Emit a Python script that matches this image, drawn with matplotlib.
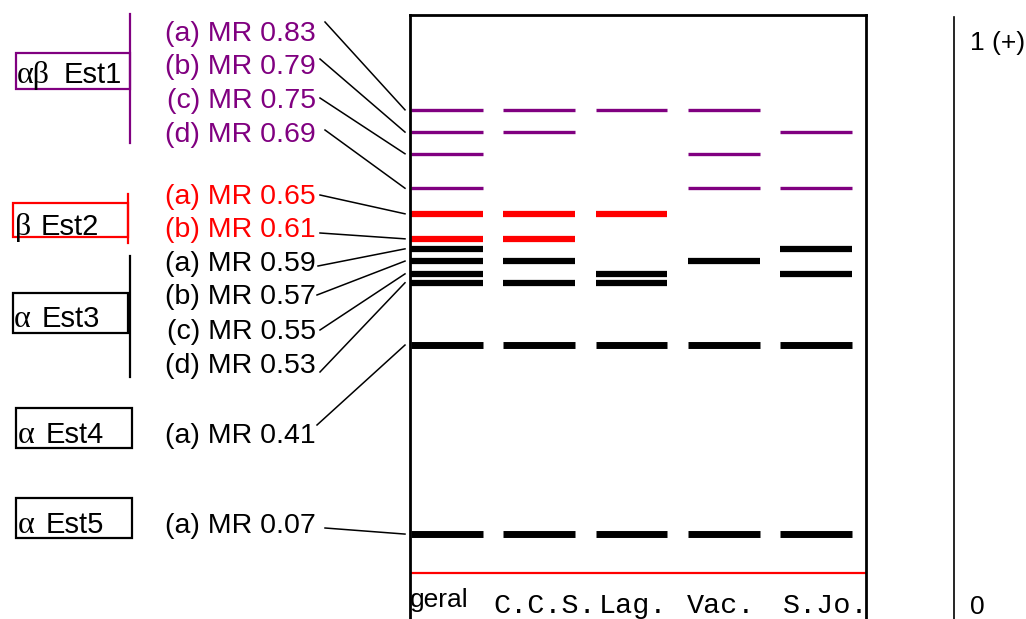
import matplotlib
matplotlib.use("Agg")
import matplotlib.pyplot as plt
from matplotlib.patches import Rectangle

# ---------------- data ----------------
lanes = ["geral", "C.C.S.", "Lag.", "Vac.", "S.Jo."]
band_letters = ["a", "b", "c", "d", "a", "b", "a", "b", "c", "d", "a", "a"]
band_mr = [0.83, 0.79, 0.75, 0.69, 0.65, 0.61, 0.59, 0.57, 0.55, 0.53, 0.41, 0.07]
# drawn band positions (relative mobility)
band_pos = [0.833, 0.793, 0.754, 0.692, 0.646, 0.601, 0.583, 0.561, 0.538, 0.522, 0.410, 0.070]
presence = [
    [1, 1, 1, 1, 0],  # 0.83
    [1, 1, 0, 0, 1],  # 0.79
    [1, 0, 0, 1, 0],  # 0.75
    [1, 0, 0, 1, 1],  # 0.69
    [1, 1, 1, 0, 0],  # 0.65
    [1, 1, 0, 0, 0],  # 0.61
    [1, 0, 0, 0, 1],  # 0.59
    [1, 1, 0, 1, 0],  # 0.57
    [1, 0, 1, 0, 1],  # 0.55
    [1, 1, 1, 0, 0],  # 0.53
    [1, 1, 1, 1, 1],  # 0.41
    [1, 1, 1, 1, 1],  # 0.07
]
group_greek = ["αβ", "β", "α", "α", "α"]
group_names = ["Est1", "Est2", "Est3", "Est4", "Est5"]
group_bands = [[0, 1, 2, 3], [4, 5], [6, 7, 8, 9], [10], [11]]

PURPLE = "#800080"
RED = "#FF0000"
BLACK = "#000000"
group_colors = [PURPLE, RED, BLACK, BLACK, BLACK]

# ---------------- layout (pixels) ----------------
W, H = 1026, 619
label_baselines = [41, 74, 108, 142, 204, 237, 271, 304, 339, 373, 443, 533]
line_start = [(325, 22), (320, 59), (320, 98), (325, 130), (320, 195), (320, 233),
              (318, 266), (317, 295), (320, 330), (320, 372), (317, 425), (325, 528)]
lane_label_dx = [-0.08, 0.06, 0.02, -0.03, 0.11]
# boxes: (x0, y0, x1, y1), text baseline, greek x, name x, bracket (x, y0, y1) or None
boxes = [
    ((16, 53, 130, 89), 83, 17, 64, (130, 14, 143)),
    ((13, 203, 128, 237), 235, 15, 41, (128, 194, 243)),
    ((13, 293, 128, 333), 327, 14, 42, (130, 256, 377)),
    ((16, 408, 132, 448), 443, 18, 46, None),
    ((16, 498, 132, 538), 533, 18, 46, None),
]

plt.rcParams["font.family"] = ["Liberation Sans", "DejaVu Sans"]

fig = plt.figure(figsize=(W / 100, H / 100), dpi=100)
over = fig.add_axes([0, 0, 1, 1])
over.set_xlim(0, W)
over.set_ylim(H, 0)
over.axis("off")

# gel axes: MR 0 at red line (y=573 px), 556 px per MR unit
gel_left, gel_right, gel_top = 410, 866, 15
gel = fig.add_axes([gel_left / W, 0, (gel_right - gel_left) / W, (H - gel_top) / H])
px_per_lane = 92.25
gel.set_xlim((gel_left - 447) / px_per_lane, (gel_right - 447) / px_per_lane)
gel.set_ylim((573 - H) / 556, (573 - gel_top) / 556)
gel.set_xticks([])
gel.set_yticks([])
gel.patch.set_alpha(0)
for s in ["left", "top", "right"]:
    gel.spines[s].set_linewidth(2.0)
    gel.spines[s].set_color("black")
gel.spines["bottom"].set_visible(False)

# band colours / widths per band
band_color = [None] * len(band_mr)
for gi, idxs in enumerate(group_bands):
    for i in idxs:
        band_color[i] = group_colors[gi]

half = 0.39
for bi, pos in enumerate(band_pos):
    c = band_color[bi]
    if c == PURPLE:
        lw = 2.4
    elif bi >= 10:
        lw = 5.0
    else:
        lw = 4.5
    for li, on in enumerate(presence[bi]):
        if on:
            gel.plot([li - half, li + half], [pos, pos], color=c, lw=lw,
                     solid_capstyle="butt")

# baseline (origin)
gel.axhline(0, xmin=2 / (gel_right - gel_left), xmax=1, color=RED, lw=1.6)

# lane labels
for li, name in enumerate(lanes):
    if li == 0:
        gel.text(li + lane_label_dx[li], -0.061, name, ha="center", va="baseline",
                 fontsize=19, family=["Liberation Sans Narrow", "Liberation Sans"])
    else:
        gel.text(li + lane_label_dx[li], -0.072, name, ha="center", va="baseline",
                 fontsize=20.5, family=["Liberation Mono", "DejaVu Sans Mono"])

# MR labels and connectors
to_over = over.transData.inverted()
for bi in range(len(band_mr)):
    c = band_color[bi]
    over.text(316, label_baselines[bi], f"({band_letters[bi]}) MR {band_mr[bi]:.2f}",
              ha="right", va="baseline", fontsize=20.5, color=c)
    end = to_over.transform(gel.transData.transform((gel.get_xlim()[0], band_pos[bi])))
    ex = 405
    over.plot([line_start[bi][0], ex], [line_start[bi][1], end[1]], color="black", lw=1.1)

# group boxes
for gi, (rect, base, gx, nx, br) in enumerate(boxes):
    x0, y0, x1, y1 = rect
    over.add_patch(Rectangle((x0, y0), x1 - x0, y1 - y0, fill=False,
                             edgecolor=group_colors[gi], lw=1.6))
    over.text(gx, base, group_greek[gi], ha="left", va="baseline", fontsize=23,
              family=["Liberation Serif", "DejaVu Serif"], color="black")
    over.text(nx, base, group_names[gi], ha="left", va="baseline", fontsize=21,
              color="black")
    if br is not None:
        over.plot([br[0], br[0]], [br[1], br[2]], color=group_colors[gi], lw=1.6)

# right-hand mobility scale
over.plot([954, 954], [17, H], color="black", lw=1.2)
over.text(970, 50, "1 (+)", ha="left", va="baseline", fontsize=19)
over.text(970, 619, "0", ha="left", va="bottom", fontsize=19)

fig.savefig("out.png", dpi=100)
